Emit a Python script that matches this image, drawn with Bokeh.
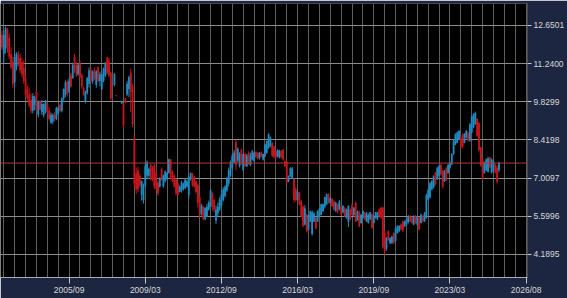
import numpy as np
from bokeh.plotting import figure
from bokeh.models import ColumnDataSource, Range1d, FixedTicker, Span, Label, PrintfTickFormatter
from bokeh.embed import file_html
from bokeh.resources import INLINE

# Monthly candles starting 2002/08 (index 0); None = no trading that month
opens = [
    12.30, 11.60, 11.80, 12.50, 12.20, 11.60, 11.30, 10.55, 11.10, 11.55,
    11.45, 11.30, 11.10, 10.70, 10.30, 10.10, 9.90, 9.50, 9.70, 10.20,
    9.35, 9.85, 9.45, 9.35, 9.50, 9.75, 9.50, 9.05, 9.10, 9.35,
    9.20, 9.40, 9.70, 9.50, 9.95, 10.10, 10.55, 10.20, 10.80, 10.70,
    11.50, 11.20, 10.85, 11.25, 10.80, 10.35, 9.85, 10.15, 10.50, 11.00,
    10.60, 11.00, 10.45, 11.10, 10.60, 10.30, 10.60, 10.80, 11.45, 11.35,
    10.90, None, 10.45, 10.06, None, None, 9.77, 9.75, 9.95, 10.10,
    10.30, 10.90, 10.40, 8.50, 7.20, 7.30, 7.10, 6.40, 6.20, 6.75,
    7.10, 7.10, 7.50, 7.40, 7.50, 7.20, 6.85, 6.70, 7.35, 6.70,
    6.90, 7.00, 7.20, 7.70, 7.25, 7.10, 6.95, 6.80, 6.50, 6.55,
    6.60, 6.65, 6.70, 6.40, 7.00, 7.15, 7.05, 6.90, 6.75, 6.30,
    5.70, 5.95, 5.50, 5.60, 5.85, 5.95, 6.45, 6.20, 5.45, 5.70,
    5.85, 6.00, 6.20, 6.35, 6.55, 6.80, 7.10, 7.40, 7.60, 8.35,
    7.65, 7.45, 8.05, 7.30, 7.90, 7.45, 7.95, 7.50, 7.70, 7.65,
    7.97, 7.95, 7.75, 7.97, 7.70, 7.82, 7.95, 8.12, 8.20, 8.30,
    8.18, 8.00, 7.80, 7.80, 8.02, 8.05, 7.64, 7.62, 6.90, 7.08,
    7.02, 6.98, 6.60, 6.20, 6.45, 6.15, 5.95, 5.30, 5.65, 5.10,
    5.40, 4.95, 5.40, 5.55, 5.40, 5.60, 5.65, 5.80, 5.95, 6.05,
    6.42, 6.10, 6.25, 6.15, 5.80, 6.05, 5.85, 5.95, 5.75, 5.90,
    5.55, 5.40, 5.85, 6.00, 5.65, 6.10, 5.45, 5.75, 5.35, 5.55,
    5.72, 5.42, 5.35, 5.50, 5.68, 5.35, 5.55, 5.50, 5.85, 5.92,
    5.92, 5.00, 4.40, 5.05, 4.60, 4.62, 4.98, 4.70, 4.98, 5.05,
    5.30, 5.40, 5.22, 5.30, 5.38, 5.60, 5.55, 5.30, 5.60, 5.30,
    5.55, 5.35, 5.62, 5.42, 5.55, 6.22, 6.30, 6.60, 6.68, 7.20,
    6.98, 7.10, 7.50, 7.28, 6.90, 7.38, 7.20, 7.40, 7.52, 7.90,
    8.25, 8.32, 8.45, 8.50, 8.62, 8.32, 8.50, 8.70, 8.40, 8.70,
    8.90, 9.00, 9.20, 9.05, 8.15, 7.70, 7.20, 7.30, 7.25, 7.78,
    7.22, 7.30, 7.50, 7.40, 7.30,
]
highs = [
    12.45, 12.47, 12.62, 12.55, 12.35, 11.85, 11.50, 11.65, 11.66, 11.70,
    11.60, 11.47, 11.36, 10.80, 10.43, 10.36, 10.14, 10.15, 10.06, 10.25,
    9.88, 9.88, 9.90, 9.77, 9.90, 9.80, 9.62, 9.44, 9.40, 9.45,
    9.65, 9.65, 9.77, 10.00, 10.32, 10.62, 10.65, 10.70, 10.90, 11.28,
    11.60, 11.30, 11.25, 11.35, 10.88, 10.40, 10.25, 10.75, 11.10, 11.10,
    11.00, 11.10, 11.00, 11.15, 10.95, 10.90, 11.10, 11.30, 11.50, 11.45,
    10.95, None, 10.90, 10.08, None, None, 9.86, 9.78, 9.97, 10.60,
    10.80, 11.05, 10.50, 8.60, 7.40, 7.43, 7.18, 6.92, 6.81, 7.59,
    7.66, 7.40, 7.55, 7.45, 7.55, 7.29, 6.92, 7.04, 7.40, 7.15,
    7.30, 7.25, 7.74, 7.72, 7.29, 7.15, 7.00, 6.85, 6.74, 6.90,
    6.85, 7.00, 6.95, 7.11, 7.22, 7.20, 7.10, 6.92, 6.81, 6.37,
    6.06, 5.98, 5.94, 6.06, 6.18, 6.60, 6.49, 6.25, 6.00, 6.10,
    6.30, 6.55, 6.68, 6.75, 7.05, 7.40, 7.66, 7.90, 8.05, 8.42,
    8.15, 7.97, 8.10, 7.91, 7.95, 7.91, 8.00, 7.95, 8.05, 7.97,
    8.00, 7.96, 7.97, 8.00, 7.91, 8.28, 8.40, 8.67, 8.55, 8.34,
    8.22, 8.03, 8.09, 8.05, 8.05, 8.09, 7.66, 7.66, 7.11, 7.42,
    7.42, 7.01, 6.70, 6.57, 6.51, 6.20, 6.01, 6.01, 5.70, 5.70,
    5.82, 5.82, 5.76, 5.57, 5.82, 5.89, 6.07, 6.07, 6.32, 6.45,
    6.45, 6.32, 6.26, 6.20, 6.14, 6.07, 6.20, 6.01, 6.01, 5.95,
    5.89, 6.01, 5.89, 6.07, 5.95, 6.14, 5.82, 5.82, 5.70, 5.82,
    5.76, 5.76, 5.70, 5.76, 5.70, 5.64, 5.76, 5.76, 5.89, 5.95,
    5.95, 5.08, 4.83, 5.08, 4.83, 4.89, 5.01, 5.21, 5.27, 5.27,
    5.33, 5.45, 5.45, 5.51, 5.64, 5.64, 5.58, 5.64, 5.64, 5.64,
    5.58, 5.70, 5.64, 5.76, 6.44, 6.63, 6.87, 6.94, 7.12, 7.24,
    7.43, 7.49, 7.55, 7.31, 7.31, 7.43, 7.55, 7.62, 7.93, 8.42,
    8.67, 8.73, 8.79, 8.54, 8.67, 8.67, 8.79, 8.73, 9.04, 9.35,
    9.41, 9.47, 9.22, 9.10, 8.17, 7.74, 7.62, 7.74, 7.80, 7.80,
    7.74, 7.68, 7.55, 7.49, 7.62,
]
lows = [
    11.75, 11.25, 11.62, 11.65, 11.40, 11.05, 10.35, 10.36, 10.99, 11.15,
    10.90, 10.73, 10.50, 10.00, 9.88, 9.62, 9.40, 9.40, 9.51, 9.50,
    9.25, 9.51, 9.35, 9.25, 9.40, 9.40, 9.14, 9.03, 9.00, 9.10,
    9.15, 9.35, 9.44, 9.44, 9.88, 10.00, 10.05, 10.15, 10.35, 10.69,
    10.90, 10.75, 10.80, 10.70, 10.32, 10.06, 9.77, 10.10, 10.36, 10.55,
    10.50, 10.65, 10.35, 10.55, 10.40, 10.25, 10.55, 10.75, 10.85, 10.75,
    9.88, None, 10.40, 10.03, None, None, 9.75, 8.88, 9.77, 10.05,
    10.00, 9.45, 8.90, 6.60, 6.44, 6.49, 6.66, 6.18, 6.07, 6.66,
    7.00, 7.04, 6.92, 6.90, 6.60, 6.55, 6.37, 6.66, 6.92, 6.66,
    6.85, 6.95, 7.18, 6.95, 6.85, 6.66, 6.37, 6.37, 6.48, 6.48,
    6.55, 6.60, 6.66, 6.26, 6.92, 6.70, 6.66, 6.44, 5.93, 5.56,
    5.63, 5.45, 5.45, 5.57, 5.81, 5.94, 5.81, 5.75, 5.32, 5.60,
    5.80, 5.95, 6.15, 6.30, 6.50, 6.70, 7.05, 7.35, 7.55, 7.30,
    7.60, 7.40, 7.50, 7.29, 7.42, 7.42, 7.50, 7.45, 7.66, 7.60,
    7.75, 7.70, 7.70, 7.79, 7.66, 7.79, 7.91, 8.09, 8.15, 7.79,
    7.74, 7.74, 7.77, 7.74, 7.74, 7.66, 7.42, 6.80, 6.86, 7.05,
    6.98, 6.10, 6.14, 6.18, 6.01, 5.57, 5.20, 5.26, 5.01, 5.08,
    5.39, 4.89, 5.39, 5.14, 5.39, 5.57, 5.64, 5.76, 5.89, 6.01,
    6.07, 6.07, 5.95, 5.82, 5.76, 5.70, 5.82, 5.64, 5.70, 5.57,
    5.51, 5.20, 5.45, 5.64, 5.57, 5.39, 5.45, 5.20, 5.33, 5.51,
    5.45, 5.39, 5.33, 5.45, 5.14, 5.33, 5.51, 5.45, 5.57, 5.51,
    4.40, 4.18, 4.33, 4.70, 4.58, 4.58, 4.58, 4.65, 4.96, 5.02,
    5.08, 5.02, 5.21, 5.27, 5.33, 5.39, 5.33, 5.27, 5.33, 5.27,
    5.08, 5.33, 5.39, 5.39, 5.51, 6.19, 6.25, 6.56, 6.63, 6.75,
    6.94, 7.06, 7.10, 6.63, 6.87, 6.90, 7.18, 7.37, 7.49, 7.86,
    8.23, 8.30, 8.42, 8.11, 8.11, 8.30, 8.48, 8.36, 8.36, 8.67,
    8.85, 8.98, 8.54, 7.99, 7.43, 6.94, 7.18, 7.27, 7.22, 7.37,
    7.18, 7.25, 7.18, 6.81, 7.22,
]
closes = [
    11.85, 12.30, 12.55, 11.90, 11.50, 11.10, 10.50, 11.50, 11.60, 11.25,
    11.00, 10.85, 10.60, 10.10, 9.95, 9.70, 9.50, 10.05, 10.00, 9.55,
    9.85, 9.55, 9.75, 9.75, 9.85, 9.45, 9.20, 9.35, 9.35, 9.20,
    9.60, 9.60, 9.50, 9.95, 10.30, 10.55, 10.15, 10.60, 10.40, 11.20,
    11.00, 10.80, 11.20, 10.75, 10.40, 10.10, 10.20, 10.70, 11.00, 10.60,
    10.95, 10.70, 10.95, 10.60, 10.85, 10.85, 11.05, 11.25, 10.90, 10.80,
    9.95, None, 10.85, 10.05, None, None, 9.85, 8.95, 9.80, 10.50,
    10.75, 10.20, 9.00, 6.80, 6.60, 6.60, 6.75, 6.90, 6.75, 7.45,
    7.60, 7.35, 7.00, 6.95, 6.70, 6.65, 6.45, 7.00, 6.95, 7.10,
    7.25, 7.20, 7.70, 7.00, 6.90, 6.70, 6.45, 6.40, 6.70, 6.85,
    6.80, 6.95, 6.90, 7.05, 7.20, 6.75, 6.70, 6.50, 6.10, 5.65,
    6.00, 5.50, 5.90, 5.95, 6.10, 6.55, 5.95, 5.85, 5.85, 5.95,
    6.20, 6.40, 6.60, 6.70, 7.00, 7.30, 7.60, 7.85, 7.95, 7.50,
    8.10, 7.90, 7.60, 7.90, 7.45, 7.85, 7.55, 7.85, 8.00, 7.95,
    7.80, 7.75, 7.95, 7.80, 7.90, 8.25, 8.38, 8.62, 8.50, 7.85,
    7.80, 7.78, 8.05, 8.00, 7.78, 7.70, 7.45, 6.85, 7.08, 7.38,
    7.38, 6.20, 6.20, 6.50, 6.05, 5.60, 5.25, 5.90, 5.05, 5.65,
    5.78, 5.75, 5.70, 5.15, 5.78, 5.88, 6.05, 6.05, 6.30, 6.42,
    6.10, 6.28, 5.98, 5.85, 6.10, 5.75, 6.15, 5.68, 5.98, 5.60,
    5.85, 5.98, 5.50, 5.65, 5.92, 5.40, 5.78, 5.22, 5.65, 5.80,
    5.48, 5.72, 5.65, 5.75, 5.18, 5.58, 5.75, 5.75, 5.60, 5.55,
    4.45, 4.30, 4.80, 4.72, 4.80, 4.85, 4.62, 5.15, 5.22, 5.24,
    5.12, 5.08, 5.42, 5.48, 5.60, 5.42, 5.36, 5.60, 5.38, 5.58,
    5.12, 5.66, 5.42, 5.72, 6.38, 6.58, 6.82, 6.90, 7.08, 6.80,
    7.38, 7.45, 7.15, 6.70, 7.26, 6.95, 7.50, 7.58, 7.90, 8.38,
    8.62, 8.70, 8.75, 8.15, 8.18, 8.64, 8.75, 8.40, 9.00, 9.30,
    9.36, 9.42, 8.58, 8.05, 7.48, 7.00, 7.58, 7.70, 7.75, 7.40,
    7.70, 7.62, 7.22, 6.88, 7.568,
]

last_price = 7.5680
y_ticks = [4.1895, 5.5996, 7.0097, 8.4198, 9.8299, 11.2400, 12.6501]
x_tick_months = [37, 79, 121, 163, 205, 247, 289]   # month index from 2002/08
x_tick_labels = ["2005/09", "2009/03", "2012/09", "2016/03", "2019/09", "2023/03", "2026/08"]

UP = "#1e8cc0"
DOWN = "#c4161c"

o = np.array(opens, dtype=float)
h = np.array(highs, dtype=float)
l = np.array(lows, dtype=float)
c = np.array(closes, dtype=float)
idx = np.arange(len(c))
colors = [UP if (cc >= oo) else DOWN for oo, cc in zip(o, c)]

src = ColumnDataSource(dict(
    x=idx, high=h, low=l,
    top=np.fmax(o, c), bottom=np.fmin(o, c), color=colors,
))

p = figure(
    width=567, height=298,
    x_range=Range1d(-0.82, 289.75), y_range=Range1d(3.3397, 13.4629),
    output_backend="svg", toolbar_location=None,
    y_axis_location="right",
    min_border_left=0, min_border_top=3, min_border_right=37, min_border_bottom=21,
    background_fill_color="#000000", border_fill_color="#1d2641",
    outline_line_color=None,
)

# grids
p.xgrid.ticker = FixedTicker(ticks=list(range(1, 290, 6)))
p.xgrid.grid_line_color = "#5e5e5e"
p.xgrid.grid_line_width = 1
p.ygrid.ticker = FixedTicker(ticks=y_ticks)
p.ygrid.grid_line_color = "#8c8c8c"
p.ygrid.grid_line_width = 1

# candles
p.segment(x0="x", y0="high", x1="x", y1="low", line_color="color", line_width=1, source=src)
p.vbar(x="x", width=1.0, top="top", bottom="bottom", fill_color="color",
       line_color=None, source=src)

# last price line and tag
p.add_layout(Span(location=last_price, dimension="width", line_color="#b03a2e", line_width=1))
p.add_layout(Label(x=533, y=last_price, x_units="screen", y_units="data",
                   text="%.4f" % last_price, text_color="#ffffff", text_font_size="8.5px",
                   text_font="Liberation Sans", text_baseline="middle", text_align="left",
                   background_fill_color="#e0584a", padding=3))

# x axis
xa = p.xaxis[0]
xa.ticker = FixedTicker(ticks=x_tick_months)
xa.major_label_overrides = dict(zip(x_tick_months, x_tick_labels))
xa.axis_line_color = "#a8adb8"
xa.major_tick_line_color = "#c8c8c8"
xa.major_tick_out = 6
xa.major_tick_in = 0
xa.minor_tick_line_color = None
xa.major_label_text_color = "#d8d8d8"
xa.major_label_text_font = "Liberation Sans"
xa.major_label_text_font_size = "8.5px"
xa.major_label_standoff = 1

# y axis
ya = p.yaxis[0]
ya.ticker = FixedTicker(ticks=y_ticks)
ya.formatter = PrintfTickFormatter(format="%.4f")
ya.axis_line_color = None
ya.major_tick_line_color = "#c8c8c8"
ya.major_tick_out = 4
ya.major_tick_in = 0
ya.minor_tick_line_color = None
ya.major_label_text_color = "#d8d8d8"
ya.major_label_text_font = "Liberation Sans"
ya.major_label_text_font_size = "8.5px"
ya.major_label_standoff = 2

open("out.html", "w").write(file_html(p, INLINE))
